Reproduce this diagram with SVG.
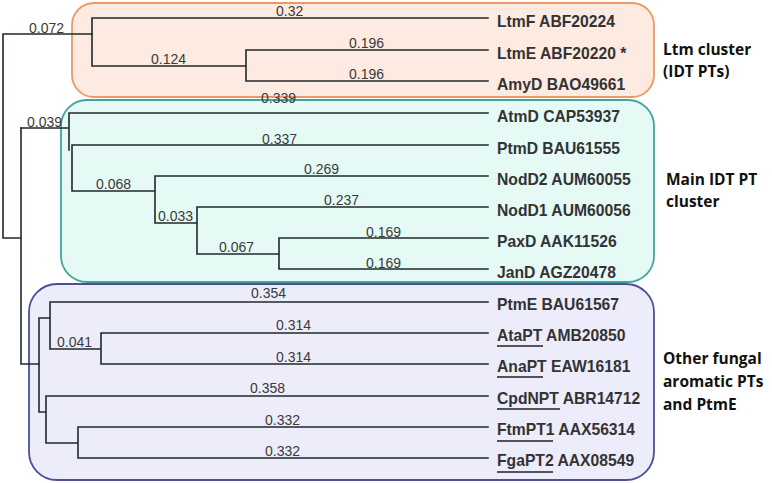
<svg xmlns="http://www.w3.org/2000/svg" width="772" height="483" viewBox="0 0 772 483">
<style>
.br{stroke:#1f2a2a;stroke-width:1.6;fill:none;stroke-linecap:square}
.bl{font-family:"Liberation Sans",Arial,sans-serif;font-size:14px;fill:#3a3a3a}
.lf{font-family:"Liberation Sans",Arial,sans-serif;font-size:15.7px;font-weight:bold;fill:#333}
.cl{font-family:"Open Sans","Noto Sans",sans-serif;font-size:15.5px;font-weight:700;fill:#111}
.ul{stroke:#222;stroke-width:1.5}
</style>
<g id="ltm-cluster"><rect x="72" y="3" width="582" height="94" rx="22" fill="#fdeae0" stroke="#eb9a66" stroke-width="1.8"/></g>
<g id="main-cluster"><rect x="61" y="100" width="593" height="182" rx="26" fill="#e5faf5" stroke="#42a59d" stroke-width="1.8"/></g>
<g id="other-cluster"><rect x="29" y="284" width="625" height="196" rx="28" fill="#edecfb" stroke="#4b4f98" stroke-width="1.8"/></g>
<g id="connectors">
<path class="br" d="M92 34H3V238H21M21 128V364H39"/>
<path class="br" d="M92 18V66M92 18H488M92 66H246M246 50V81M246 50H488M246 81H488"/>
<path class="br" d="M21 128H69M69 113V150M69 113H488M72 145V191M72 145H488M72 191H155M155 176V223M155 176H488M155 223H197M197 207V254M197 207H488M197 254H279M279 238V269M279 238H488M279 269H488"/>
<path class="br" d="M39 318V412M39 318H50M50 302V349M50 302H488M50 349H101M101 333V364M101 333H488M101 364H488M39 412H46M46 396V443M46 396H488M46 443H78M78 427V458M78 427H488M78 458H488"/>
</g>
<g id="branch-labels">
<text class="bl" x="29" y="33">0.072</text>
<text class="bl" x="276" y="16">0.32</text>
<text class="bl" x="349" y="48">0.196</text>
<text class="bl" x="349" y="79">0.196</text>
<text class="bl" x="151" y="64">0.124</text>
<text class="bl" x="27" y="127">0.039</text>
<text class="bl" x="261" y="103">0.339</text>
<text class="bl" x="262" y="144">0.337</text>
<text class="bl" x="96" y="189">0.068</text>
<text class="bl" x="304" y="174">0.269</text>
<text class="bl" x="158" y="221">0.033</text>
<text class="bl" x="324" y="205">0.237</text>
<text class="bl" x="219" y="252">0.067</text>
<text class="bl" x="366" y="237">0.169</text>
<text class="bl" x="366" y="268">0.169</text>
<text class="bl" x="251" y="298">0.354</text>
<text class="bl" x="276" y="330">0.314</text>
<text class="bl" x="276" y="362">0.314</text>
<text class="bl" x="57" y="347">0.041</text>
<text class="bl" x="250" y="393">0.358</text>
<text class="bl" x="265" y="425">0.332</text>
<text class="bl" x="265" y="456">0.332</text>
</g>
<g id="leaves">
<g id="LtmF"><text class="lf" x="497" y="27">LtmF ABF20224</text></g>
<g id="LtmE"><text class="lf" x="497" y="59">LtmE ABF20220 *</text></g>
<g id="AmyD"><text class="lf" x="497" y="90">AmyD BAO49661</text></g>
<g id="AtmD"><text class="lf" x="497" y="122">AtmD CAP53937</text></g>
<g id="PtmD"><text class="lf" x="497" y="154">PtmD BAU61555</text></g>
<g id="NodD2"><text class="lf" x="497" y="185">NodD2 AUM60055</text></g>
<g id="NodD1"><text class="lf" x="497" y="216">NodD1 AUM60056</text></g>
<g id="PaxD"><text class="lf" x="497" y="247">PaxD AAK11526</text></g>
<g id="JanD"><text class="lf" x="497" y="278">JanD AGZ20478</text></g>
<g id="PtmE"><text class="lf" x="497" y="310">PtmE BAU61567</text></g>
<g id="AtaPT"><text class="lf" x="497" y="341">AtaPT AMB20850</text><line class="ul" x1="497" y1="346" x2="543" y2="346"/></g>
<g id="AnaPT"><text class="lf" x="497" y="372">AnaPT EAW16181</text><line class="ul" x1="497" y1="377" x2="543" y2="377"/></g>
<g id="CpdNPT"><text class="lf" x="497" y="404">CpdNPT ABR14712</text><line class="ul" x1="497" y1="409" x2="560" y2="409"/></g>
<g id="FtmPT1"><text class="lf" x="497" y="435">FtmPT1 AAX56314</text><line class="ul" x1="497" y1="441" x2="553" y2="441"/></g>
<g id="FgaPT2"><text class="lf" x="497" y="466">FgaPT2 AAX08549</text><line class="ul" x1="497" y1="472" x2="553" y2="472"/></g>
</g>
<g id="cluster-labels">
<text class="cl" x="663" y="55">Ltm cluster<tspan x="663" y="77">(IDT PTs)</tspan></text>
<text class="cl" x="666" y="185">Main IDT PT<tspan x="666" y="207">cluster</tspan></text>
<text class="cl" x="663" y="364">Other fungal<tspan x="663" y="387">aromatic PTs</tspan><tspan x="663" y="410">and PtmE</tspan></text>
</g>
</svg>
